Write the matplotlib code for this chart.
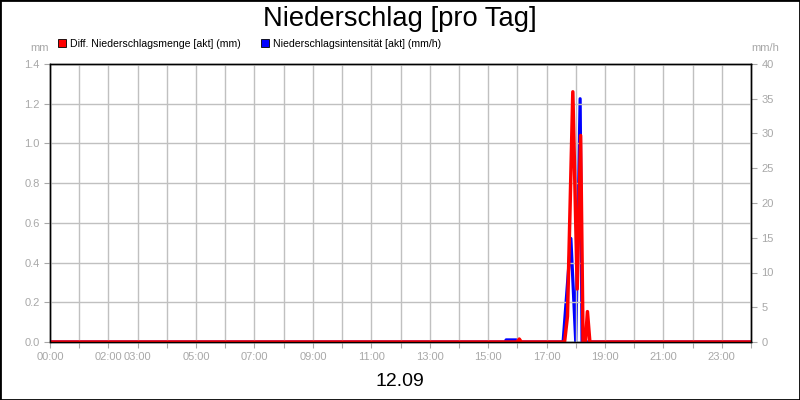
import numpy as np
import matplotlib.pyplot as plt
from matplotlib.patches import Patch, Rectangle

plt.rcParams['font.family'] = ['Liberation Sans', 'DejaVu Sans']

# Diff. Niederschlagsmenge (mm), left axis
menge_zeit = ['00:00', '16:00', '16:04', '16:08', '17:37', '17:43', '17:54',
              '18:03', '18:10', '18:15', '18:20', '18:24', '18:29', '24:00']
menge_wert = [0, 0, 0.015, 0, 0, 0.13, 1.26, 0.267, 1.04, 0, 0, 0.153, 0, 0]

# Niederschlagsintensität (mm/h), right axis
intens_zeit = ['00:00', '15:35', '15:37', '15:59', '16:01', '17:34', '17:50',
               '18:00', '18:09', '18:13', '24:00']
intens_wert = [0, 0, 0.3, 0.3, 0, 0, 14.9, 0, 35, 0, 0]

x_labels = ['00:00', '02:00', '03:00', '05:00', '07:00', '09:00', '11:00',
            '13:00', '15:00', '17:00', '19:00', '21:00', '23:00']


def to_hours(times):
    return [int(t[:2]) + int(t[3:]) / 60 for t in times]


grey = '#a8a8a8'
gridc = '#c0c0c0'

fig = plt.figure(figsize=(8, 4), dpi=100)
fig.patches.append(Rectangle((0, 0), 1, 1, transform=fig.transFigure,
                             fill=False, edgecolor='black', linewidth=2))

ax = fig.add_axes([50 / 800, 58 / 400, 701 / 800, 278 / 400])
ax2 = ax.twinx()

ax2.plot(to_hours(intens_zeit), intens_wert, color='#0000ff', linewidth=2.3)
ax.plot(to_hours(menge_zeit), menge_wert, color='#ff0000', linewidth=2.5)
ax.set_zorder(ax2.get_zorder() + 1)
ax.patch.set_visible(False)

ax.set_xlim(0, 24)
ax.set_ylim(0, 1.4)
ax2.set_ylim(0, 40)
ax.set_yticks(np.arange(0, 1.41, 0.2))
ax.set_yticklabels(['%.1f' % v for v in np.arange(0, 1.41, 0.2)])
ax2.set_yticks(range(0, 41, 5))

hours = list(range(0, 25))
ax.set_xticks(hours)
ax.set_xticklabels(['%02d:00' % h if '%02d:00' % h in x_labels else ''
                    for h in hours])
ax.tick_params(axis='x', length=4, color=grey, labelsize=8,
               labelcolor=grey, pad=3)
ax.tick_params(axis='y', length=4, color=grey, labelsize=8, labelcolor=grey)
ax2.tick_params(axis='y', length=4, color=grey, labelsize=8, labelcolor=grey)

ax.grid(True, color=gridc, linewidth=1)
ax.set_axisbelow(True)
for a in (ax, ax2):
    for s in a.spines.values():
        s.set_color('black')
        s.set_linewidth(1)

fig.text(0.5, 0.953, 'Niederschlag [pro Tag]', ha='center', va='center',
         fontsize=19.7)
fig.text(0.5, 0.047, '12.09', ha='center', va='center', fontsize=14)
fig.text(40 / 800, 1 - 48 / 400, 'mm', ha='center', va='center',
         fontsize=8, color=grey)
fig.text(765 / 800, 1 - 48 / 400, 'mm/h', ha='center', va='center',
         fontsize=8, color=grey)

handles = [Patch(facecolor='#ff0000', edgecolor='black', linewidth=0.6),
           Patch(facecolor='#0000ff', edgecolor='black', linewidth=0.6)]
fig.legend(handles, ['Diff. Niederschlagsmenge [akt] (mm)',
                     'Niederschlagsintensität [akt] (mm/h)'],
           loc='center left', bbox_to_anchor=(58 / 800, 1 - 44 / 400),
           ncol=2, frameon=False, fontsize=7.6, handlelength=0.8,
           handleheight=0.8, handletextpad=0.35, columnspacing=1.9,
           borderaxespad=0, borderpad=0)

fig.savefig('out.png', dpi=100)
